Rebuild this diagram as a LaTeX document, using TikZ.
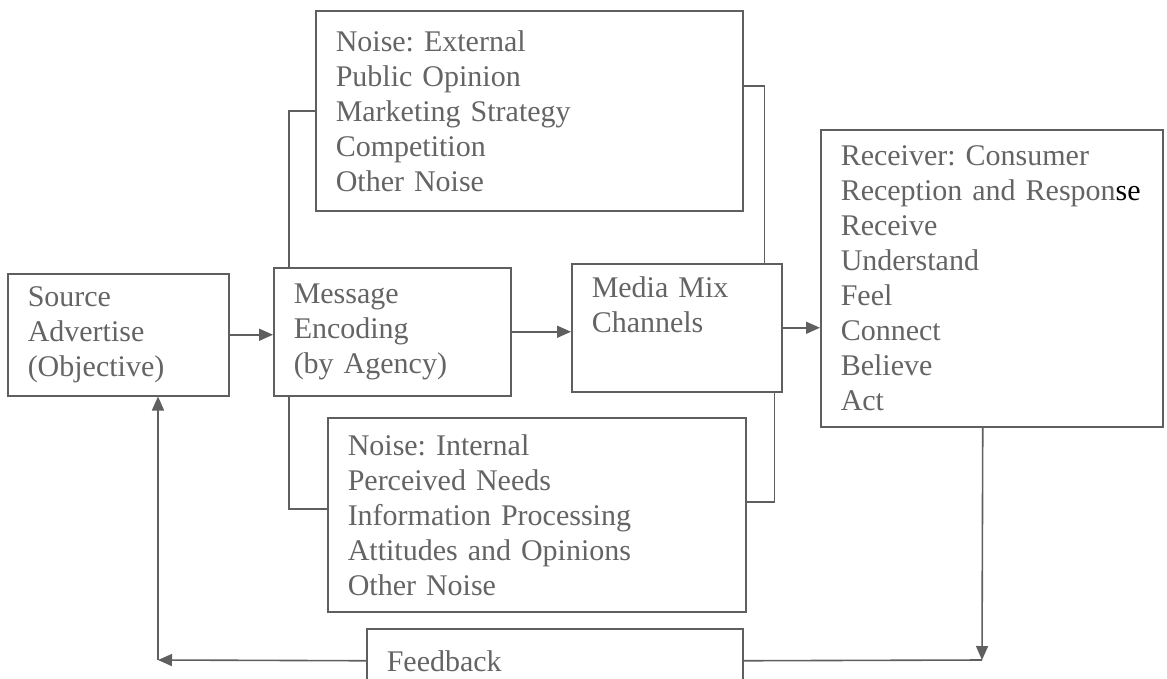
\documentclass[tikz,border=0pt]{standalone}
\usepackage{fontspec}
\setmainfont{Liberation Serif}
\usetikzlibrary{arrows.meta,positioning,calc}
\definecolor{lncol}{RGB}{95,95,95}
\definecolor{txtcol}{RGB}{100,100,100}
\tikzset{
  blk/.style={draw=lncol, line width=1.5pt, text=txtcol, anchor=north west, align=left,
    inner xsep=20pt, inner ysep=0pt, font=\fontsize{30pt}{35pt}\selectfont\frenchspacing},
  lnk/.style={lncol, line width=1.6pt},
  arr/.style={-{Triangle[length=14pt,width=12pt]}, lncol, line width=1.6pt},
}
\begin{document}
\begin{tikzpicture}[x=1pt,y=-1pt]
  \useasboundingbox (0,0) rectangle (1167,678);
  \clip (0,0) rectangle (1167,678);
  % main chain
  \node[blk, text width=181pt, minimum height=122pt] (source) at (7,273) {Source\\Advertise\\(Objective)};
  \node[blk, text width=197pt, minimum height=128pt] (message) at (273,267) {Message\\Encoding\\(by Agency)};
  \node[blk, text width=170pt, minimum height=128pt] (media) at (571,263) {Media Mix\\Channels\\\strut};
  \node[blk, text width=302pt, minimum height=297pt] (receiver) at (820,129)
    {Receiver: Consumer\\Reception and Respon{\color{black}se}\\Receive\\Understand\\Feel\\Connect\\Believe\\Act};
  % noise
  \node[blk, text width=387pt, minimum height=200pt] (noiseext) at (315,10)
    {Noise: External\\Public Opinion\\Marketing Strategy\\Competition\\Other Noise};
  \node[blk, text width=378pt, minimum height=194pt] (noiseint) at (327,417)
    {Noise: Internal\\Perceived Needs\\Information Processing\\Attitudes and Opinions\\Other Noise};
  \node[blk, text width=336pt, minimum height=64pt] (feedback) at (366,628) {Feedback};
  \coordinate (fbR) at (982,660);
  \coordinate (fbL) at (158,660);
  % arrows
  \draw[arr] (source.east) -- (source.east -| message.west);
  \draw[arr] (message.east) -- (message.east -| media.west);
  \draw[arr] (media.east) -- (media.east -| receiver.west);
  \draw[lnk] ([xshift=16pt]message.north west) |- (noiseext.west);
  \draw[lnk] ([xshift=-18pt]media.north east) |- ([yshift=25pt]noiseext.east);
  \draw[lnk] ([xshift=16pt]message.south west) |- ([yshift=6pt]noiseint.west);
  \draw[lnk] ([xshift=-8pt]media.south east) |- ([yshift=13pt]noiseint.east);
  % feedback loop
  \draw[arr] ([xshift=-9pt]receiver.south) -- (fbR);
  \draw[lnk] (feedback.east) -- (fbR);
  \draw[arr] (feedback.west) -- (fbL);
  \draw[arr] (fbL) -- (fbL |- source.south);
\end{tikzpicture}
\end{document}
